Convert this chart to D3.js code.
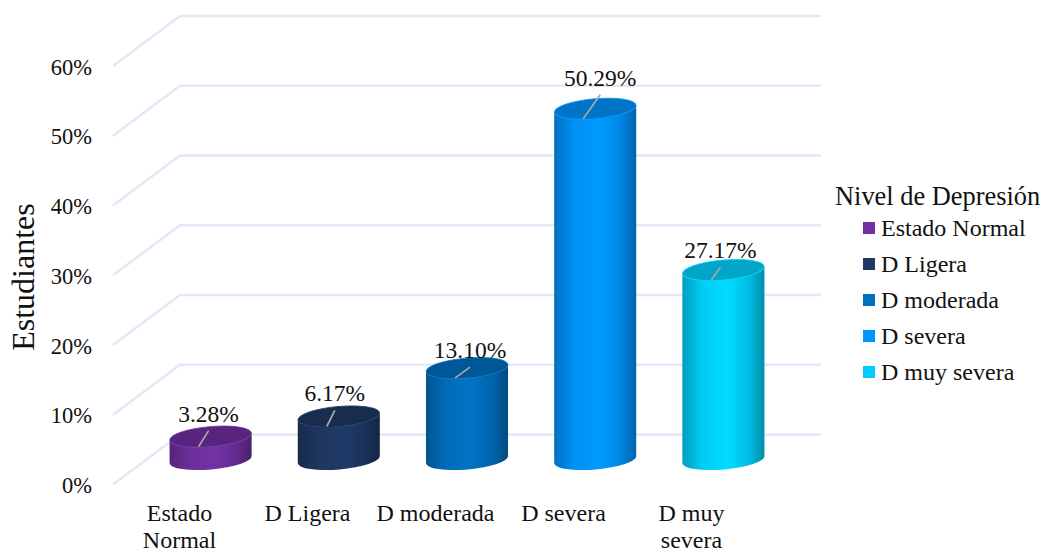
<!DOCTYPE html>
<html>
<head>
<meta charset="utf-8">
<script src="https://d3js.org/d3.v7.min.js"></script>
<style>
  body { margin: 0; background: #fff; }
  text { font-family: "Liberation Serif", serif; fill: #111; }
</style>
</head>
<body>
<div id="chart"></div>
<script>
const categories = ["Estado Normal", "D Ligera", "D moderada", "D severa", "D muy severa"];
const values = [3.28, 6.17, 13.10, 50.29, 27.17];
const colors = ["#7030a0", "#1f3864", "#0070c0", "#0096ff", "#00d4ff"];
const legendColors = ["#7030a0", "#1f3864", "#0070c0", "#0096ff", "#00ccff"];
const yTicks = [0, 10, 20, 30, 40, 50, 60];

// manual label placement, offset from the centre of each bar top
const labelDx = [-2, -4, 3, 5, -3];
const labelDy = [-15, -15, -10, -23, -12];

const svg = d3.select("#chart").append("svg")
    .attr("width", 1046)
    .attr("height", 552);

// depth of the fake 3d floor
const depthX = 67, depthY = -50;

const y = d3.scaleLinear().domain([0, 60]).range([484.5, 66]);
const x = d3.scaleBand().domain(categories).range([113, 754])
    .paddingInner(0.36).paddingOuter(0.18);
const xLabel = d3.scalePoint().domain(categories).range([179, 691]);

// gridlines
svg.append("g").selectAll("path")
    .data(yTicks)
    .join("path")
    .attr("fill", "none")
    .attr("stroke", "#e0e9f5")
    .attr("stroke-width", 2.4)
    .attr("d", d => {
        const p = d3.path();
        p.moveTo(113, y(d));
        p.lineTo(113 + depthX, y(d) + depthY);
        p.lineTo(754 + depthX, y(d) + depthY);
        return p.toString();
    });

// y axis
const yAxis = svg.append("g")
    .attr("transform", "translate(92,1)")
    .call(d3.axisLeft(y).tickValues(yTicks).tickSize(0).tickPadding(0).tickFormat(d => d + "%"));
yAxis.select(".domain").remove();
yAxis.selectAll("text").style("font-size", "22.5px").style("font-family", "Liberation Serif").attr("fill", "#111");

svg.append("text")
    .attr("transform", "translate(34,277) rotate(-90)")
    .attr("text-anchor", "middle")
    .style("font-size", "32px")
    .text("Estudiantes");

// x axis labels, long ones break on two lines
const xAxis = svg.append("g")
    .attr("transform", "translate(0,500)")
    .call(d3.axisBottom(xLabel).tickSize(0).tickPadding(0));
xAxis.select(".domain").remove();
xAxis.selectAll("text")
    .style("font-size", "24px")
    .style("font-family", "Liberation Serif")
    .attr("fill", "#111")
    .each(function (d) {
        const t = d3.select(this);
        const lines = this.getComputedTextLength() > 120
            ? [d.slice(0, d.lastIndexOf(" ")), d.slice(d.lastIndexOf(" ") + 1)]
            : [d];
        t.text(null).attr("y", 21).attr("dy", null);
        lines.forEach((l, i) => t.append("tspan").attr("x", 0).attr("dy", i ? 27 : 0).text(l));
    });

// cylinders
const defs = svg.append("defs");
const rx = x.bandwidth() / 2, ry = 10, tilt = -5;
const tiltRad = tilt * Math.PI / 180;
const ex = rx, ey = rx * Math.tan(-tiltRad);

const rows = categories.map((c, i) => ({
    name: c,
    value: values[i],
    color: colors[i],
    legend: legendColors[i],
    cx: x(c) + rx + depthX / 2,
    top: y(values[i]) + depthY / 2,
    base: y(0) + depthY / 2,
    i: i
}));

rows.forEach(d => {
    const g = defs.append("linearGradient").attr("id", "side" + d.i);
    const base = d3.color(d.color);
    g.append("stop").attr("offset", "0%").attr("stop-color", base.darker(0.8));
    g.append("stop").attr("offset", "25%").attr("stop-color", base.darker(0.1));
    g.append("stop").attr("offset", "55%").attr("stop-color", base.brighter(0.1));
    g.append("stop").attr("offset", "80%").attr("stop-color", base.darker(0.3));
    g.append("stop").attr("offset", "100%").attr("stop-color", base.darker(1.1));
});

const bar = svg.append("g").selectAll("g")
    .data(rows)
    .join("g");

bar.append("path")
    .attr("fill", d => "url(#side" + d.i + ")")
    .attr("d", d => {
        const lx = d.cx - ex, rxp = d.cx + ex;
        return `M${lx},${d.top + ey} L${lx},${d.base + ey}` +
            ` A${rx},${ry} ${tilt} 0 0 ${rxp},${d.base - ey}` +
            ` L${rxp},${d.top - ey}` +
            ` A${rx},${ry} ${tilt} 0 1 ${lx},${d.top + ey} Z`;
    });

bar.append("ellipse")
    .attr("rx", rx)
    .attr("ry", ry)
    .attr("transform", d => `translate(${d.cx},${d.top}) rotate(${tilt})`)
    .attr("fill", d => d3.color(d.color).darker(0.7))
    .attr("stroke", d => d.color)
    .attr("stroke-width", 0.8);

// leader lines and value labels
bar.append("line")
    .attr("x1", d => d.cx - 12)
    .attr("y1", d => d.top + 10)
    .attr("x2", d => d.cx + labelDx[d.i])
    .attr("y2", d => d.top + labelDy[d.i] + 9)
    .attr("stroke", "#a6a6a6")
    .attr("stroke-width", 1.8);

bar.append("text")
    .attr("x", d => d.cx + labelDx[d.i])
    .attr("y", d => d.top + labelDy[d.i])
    .attr("text-anchor", "middle")
    .style("font-size", "23.5px")
    .text(d => d.value.toFixed(2) + "%");

// legend
svg.append("text")
    .attr("x", 835)
    .attr("y", 205)
    .style("font-size", "26.4px")
    .text("Nivel de Depresión");

const legendY = d3.scalePoint().domain(categories).range([228, 372]);
const legendItem = svg.append("g").selectAll("g")
    .data(rows)
    .join("g")
    .attr("transform", d => `translate(863,${legendY(d.name)})`);

legendItem.append("rect")
    .attr("y", -6)
    .attr("width", 12)
    .attr("height", 12)
    .attr("fill", d => d.legend);

legendItem.append("text")
    .attr("x", 18)
    .attr("y", 8)
    .style("font-size", "24px")
    .text(d => d.name);
</script>
</body>
</html>
